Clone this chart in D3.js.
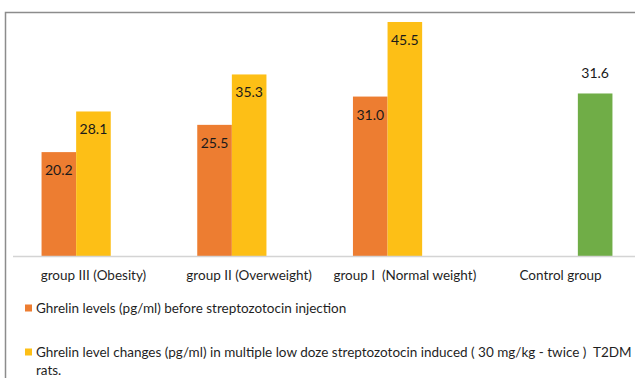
<!DOCTYPE html>
<html>
<head>
<meta charset="utf-8">
<script src="https://cdn.jsdelivr.net/npm/d3@7"></script>
<style>
  html, body { margin: 0; padding: 0; background: #fff; }
  svg { display: block; font-family: "Lato", "Open Sans", sans-serif; }
</style>
</head>
<body>
<svg id="chart" width="635" height="378"></svg>
<script>
const categories = ["group III (Obesity)", "group II (Overweight)", "group I  (Normal weight)", "Control group"];
const seriesNames = [
  "Ghrelin levels (pg/ml) before streptozotocin injection",
  "Ghrelin level changes (pg/ml) in multiple low doze streptozotocin induced ( 30 mg/kg - twice )  T2DM rats.",
  "Control"
];
const beforeValues = [20.2, 25.5, 31.0, null];
const afterValues = [28.1, 35.3, 45.5, null];
const controlValues = [null, null, null, 31.6];
const seriesColors = ["#ED7D31", "#FDBF16", "#70AD47"];
const labelModes = ["inside", "inside", "above"];

const svg = d3.select("#chart");
const W = 635, H = 378;

// outer frame (only left and top edges visible in the crop)
svg.append("rect")
  .attr("x", 5.5).attr("y", 12.5)
  .attr("width", 720).attr("height", 500)
  .attr("fill", "none").attr("stroke", "#8c8c8c").attr("stroke-width", 1.5);

const baseY = 256;
const pxPerUnit = 5.143;
const y = d3.scaleLinear().domain([0, 50]).range([baseY, baseY - 50 * pxPerUnit]);
const x0 = d3.scaleBand().domain(categories).range([15.6, 638.4]).paddingInner(0).paddingOuter(0);
const step = x0.step();
const x1 = d3.scaleBand().domain(d3.range(3)).range([step * 0.75 / 4.5, step * 3.75 / 4.5]).padding(0);

const allSeries = [beforeValues, afterValues, controlValues];

const data = [];
allSeries.forEach((vals, si) => {
  vals.forEach((v, ci) => {
    if (v !== null) data.push({ si, cat: categories[ci], v });
  });
});

// bars
svg.append("g").selectAll("rect").data(data).join("rect")
  .attr("x", d => x0(d.cat) + x1(d.si))
  .attr("y", d => y(d.v))
  .attr("width", x1.bandwidth())
  .attr("height", d => y(0) - y(d.v))
  .attr("fill", d => seriesColors[d.si]);

// baseline axis
const xAxis = d3.axisBottom(x0).tickSize(0).tickPadding(14);
const ax = svg.append("g").attr("transform", `translate(0,${baseY})`).call(xAxis);
ax.select(".domain").attr("stroke", "#d4d4d4").attr("stroke-width", 1.3)
  .attr("d", `M13,0.5H${W + 10}`);
ax.selectAll("text")
  .attr("font-size", 13.5).attr("fill", "#1f1f1f")
  .style("font-family", "Lato, sans-serif")
  .style("white-space", "pre");

// data labels
svg.append("g").selectAll("text").data(data).join("text")
  .attr("x", d => x0(d.cat) + x1(d.si) + x1.bandwidth() / 2)
  .attr("y", d => labelModes[d.si] === "inside" ? y(d.v) + 23 : y(d.v) - 15)
  .attr("text-anchor", "middle")
  .attr("font-size", 14)
  .attr("fill", "#1a1a1a")
  .text(d => d.v.toFixed(1));

// legend
const legend = svg.append("g");
const legendRows = [
  { si: 0, y: 308, lines: [seriesNames[0]] },
  { si: 1, y: 352, lines: ["Ghrelin level changes (pg/ml) in multiple low doze streptozotocin induced ( 30 mg/kg - twice )  T2DM", "rats."] }
];
legendRows.forEach(r => {
  legend.append("rect")
    .attr("x", 25).attr("y", r.y - 3.5).attr("width", 7).attr("height", 7)
    .attr("fill", seriesColors[r.si]);
  r.lines.forEach((ln, i) => {
    legend.append("text")
      .attr("x", 36).attr("y", r.y + 4.5 + i * 18)
      .attr("font-size", 13.5).attr("fill", "#1f1f1f")
      .style("white-space", "pre")
      .text(ln);
  });
});
</script>
</body>
</html>
